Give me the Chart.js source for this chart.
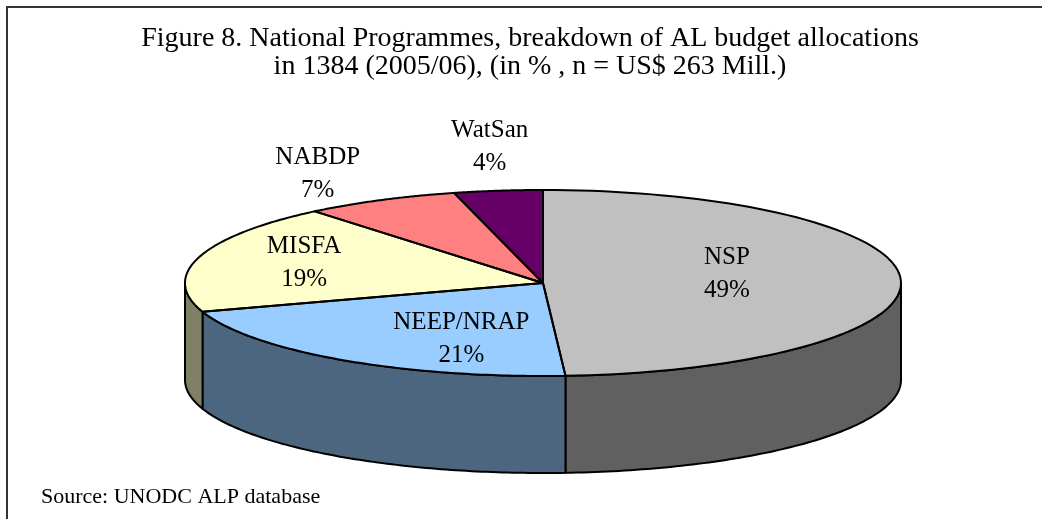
<!DOCTYPE html>
<html>
<head>
<meta charset="utf-8">
<script src="https://cdn.jsdelivr.net/npm/chart.js@4.4.0/dist/chart.umd.min.js"></script>
<style>
  html, body { margin: 0; padding: 0; background: #fff; }
  canvas { display: block; }
</style>
</head>
<body>
<canvas id="budgetChart" width="1042" height="519"></canvas>
<script>
// Figure 8 - AL budget allocations by national programme
const programmes = ["NSP", "NEEP/NRAP", "MISFA", "NABDP", "WatSan"];
const shares = [49, 21, 19, 7, 4];
const titleLines = [
    "Figure 8. National Programmes, breakdown of AL budget allocations",
    "in 1384 (2005/06), (in % , n = US$ 263 Mill.)"
];
const sourceNote = "Source: UNODC ALP database";

const topColours = ["#C0C0C0", "#99CCFF", "#FFFFCC", "#FF8080", "#660066"];
const sideColours = ["#606060", "#4D6680", "#808066", "#804040", "#330033"];

// the flat pie gets squashed onto this ellipse, then extruded
const pieView = { cx: 543, cy: 283, rx: 358, ry: 93, depth: 97 };
// where labels sit: fraction of radius along the mid angle, then a pixel nudge
const labelReach = [0.5, 0.5, 0.5, 1.3, 1.3];
const labelNudge = [[5, -10], [19, 16], [-67, -9], [-14, -3], [5, -18]];

const serif = "'Liberation Serif', 'Times New Roman', serif";

function rimPoint(angle, f) {
    return [
        pieView.cx + Math.cos(angle) * pieView.rx * f,
        pieView.cy + Math.sin(angle) * pieView.ry * f
    ];
}

function traceRim(ctx, a0, a1, dy, first) {
    const steps = 90;
    for (let i = 0; i <= steps; i++) {
        const t = a0 + (a1 - a0) * i / steps;
        const p = rimPoint(t, 1);
        if (i === 0 && first) ctx.moveTo(p[0], p[1] + dy);
        else ctx.lineTo(p[0], p[1] + dy);
    }
}

const pie3d = {
    id: "pie3d",
    beforeDatasetsDraw(chart) {
        const ctx = chart.ctx;
        const arcs = chart.getDatasetMeta(0).data;

        // front walls
        ctx.save();
        ctx.lineWidth = 2;
        ctx.lineJoin = "round";
        ctx.strokeStyle = "#000";
        arcs.forEach((arc, i) => {
            const lo = Math.max(arc.startAngle, 0);
            const hi = Math.min(arc.endAngle, Math.PI);
            if (hi <= lo) return;
            ctx.beginPath();
            traceRim(ctx, lo, hi, 0, true);
            traceRim(ctx, hi, lo, pieView.depth, false);
            ctx.closePath();
            ctx.fillStyle = sideColours[i];
            ctx.fill();
            ctx.stroke();
        });
        ctx.restore();

        // squash the library's round pie onto the top ellipse
        const a = arcs[0];
        ctx.save();
        ctx.translate(pieView.cx, pieView.cy);
        ctx.scale(pieView.rx / a.outerRadius, pieView.ry / a.outerRadius);
        ctx.translate(-a.x, -a.y);
    },
    afterDatasetsDraw(chart) {
        const ctx = chart.ctx;
        ctx.restore();
        const arcs = chart.getDatasetMeta(0).data;

        // slice outlines on top
        ctx.save();
        ctx.lineWidth = 2;
        ctx.lineJoin = "round";
        ctx.strokeStyle = "#000";
        arcs.forEach(arc => {
            ctx.beginPath();
            ctx.moveTo(pieView.cx, pieView.cy);
            traceRim(ctx, arc.startAngle, arc.endAngle, 0, false);
            ctx.closePath();
            ctx.stroke();
        });
        ctx.restore();

        // data labels
        const total = shares.reduce((s, v) => s + v, 0);
        ctx.save();
        ctx.fillStyle = "#000";
        ctx.font = "25px " + serif;
        ctx.textAlign = "center";
        ctx.textBaseline = "alphabetic";
        arcs.forEach((arc, i) => {
            const mid = (arc.startAngle + arc.endAngle) / 2;
            const p = rimPoint(mid, labelReach[i]);
            const x = p[0] + labelNudge[i][0];
            const y = p[1] + labelNudge[i][1];
            ctx.fillText(programmes[i], x, y - 8);
            ctx.fillText(Math.round(shares[i] / total * 100) + "%", x, y + 25);
        });
        ctx.restore();
    },
    afterDraw(chart) {
        const ctx = chart.ctx;
        ctx.save();
        // frame (top and left edges only are visible)
        ctx.strokeStyle = "#333";
        ctx.lineWidth = 2;
        ctx.beginPath();
        ctx.moveTo(1042, 7);
        ctx.lineTo(7, 7);
        ctx.lineTo(7, 519);
        ctx.stroke();
        // source note
        ctx.fillStyle = "#000";
        ctx.font = "22px " + serif;
        ctx.textAlign = "left";
        ctx.textBaseline = "alphabetic";
        ctx.fillText(sourceNote, 41, 503);
        ctx.restore();
    }
};

new Chart(document.getElementById("budgetChart"), {
    type: "pie",
    data: {
        labels: programmes,
        datasets: [{
            data: shares,
            backgroundColor: topColours,
            borderWidth: 0,
            hoverOffset: 0
        }]
    },
    options: {
        responsive: false,
        animation: false,
        events: [],
        layout: { padding: { left: 18, bottom: 40 } },
        plugins: {
            legend: { display: false },
            tooltip: { enabled: false },
            title: {
                display: true,
                text: titleLines,
                color: "#000",
                font: { family: serif, size: 28, weight: "normal", lineHeight: 1.02 },
                padding: { top: 24, bottom: 10 }
            }
        }
    },
    plugins: [pie3d]
});
</script>
</body>
</html>
